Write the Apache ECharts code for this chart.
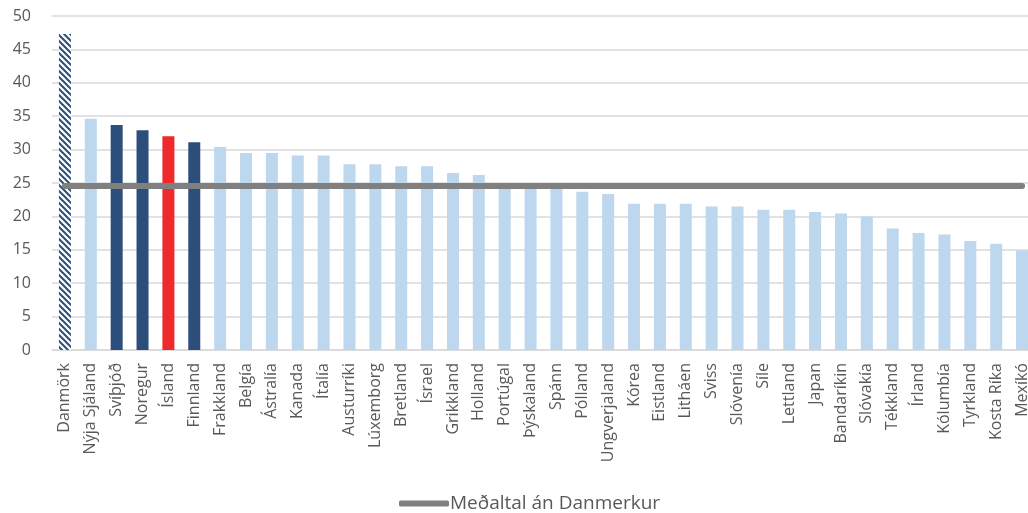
<!DOCTYPE html>
<html>
<head>
<meta charset="utf-8">
<script src="https://cdn.jsdelivr.net/npm/echarts@6/dist/echarts.min.js"></script>
<style>
html,body{margin:0;padding:0;background:#fff;overflow:hidden;}
#wrap{width:1028px;height:513px;overflow:hidden;}
#c{width:1036px;height:513px;}
</style>
</head>
<body>
<div id="wrap"><div id="c"></div></div>
<script>
const categories = ['Danmörk','Nýja Sjáland','Svíþjóð','Noregur','Ísland','Finnland','Frakkland','Belgía','Ástralía','Kanada','Ítalía','Austurríki','Lúxemborg','Bretland','Ísrael','Grikkland','Holland','Portúgal','Þýskaland','Spánn','Pólland','Ungverjaland','Kórea','Eistland','Litháen','Sviss','Slóvenía','Síle','Lettland','Japan','Bandaríkin','Slóvakía','Tékkland','Írland','Kólumbía','Tyrkland','Kosta Ríka','Mexíkó'];
const values = [47.3,34.6,33.7,32.9,32.0,31.1,30.4,29.5,29.5,29.1,29.1,27.8,27.8,27.5,27.5,26.5,26.2,24.6,24.4,24.3,23.7,23.35,21.9,21.9,21.9,21.5,21.5,21.0,21.0,20.65,20.45,20.0,18.2,17.5,17.3,16.3,15.9,14.9];
const averageValue = 24.55;
const averageName = 'Meðaltal án Danmerkur';
const hatchedCategories = ['Danmörk'];
const navyCategories = ['Svíþjóð','Noregur','Finnland'];
const redCategories = ['Ísland'];
const yTicks = {min:0, max:50, interval:5};

const LIGHT = '#bdd7ee', NAVY = '#2c4e7a', RED = '#ee2a2a', GRAY = '#808080';

// hatch pattern
const pc = document.createElement('canvas');
pc.width = 6; pc.height = 6;
const g = pc.getContext('2d');
g.fillStyle = '#ffffff'; g.fillRect(0,0,6,6);
g.strokeStyle = NAVY; g.lineWidth = 2;
g.beginPath();
g.moveTo(-3,-3); g.lineTo(9,9);
g.moveTo(-9,-3); g.lineTo(3,9);
g.moveTo(3,-3); g.lineTo(15,9);
g.stroke();

const barData = values.map((v,i)=>{
  const c = categories[i];
  let color = LIGHT;
  if (hatchedCategories.includes(c)) color = {image: pc, repeat: 'repeat'};
  else if (navyCategories.includes(c)) color = NAVY;
  else if (redCategories.includes(c)) color = RED;
  return {value: v, itemStyle: {color: color}};
});
const avgData = categories.map(()=>averageValue);

const FONT = 'Open Sans';
const chart = echarts.init(document.getElementById('c'), null, {renderer:'canvas'});
chart.setOption({
  animation:false,
  textStyle:{fontFamily:FONT},
  grid:{left:52, right:1, top:16, height:334, containLabel:false},
  legend:{
    data:[{name:averageName, icon:'roundRect'}],
    left:394, top:489,
    itemWidth:50, itemHeight:6, itemGap:10,
    textStyle:{fontFamily:FONT, fontSize:19, color:'#595959', padding:[0,0,0,-4]}
  },
  xAxis:{
    type:'category', data:categories,
    axisTick:{show:false},
    axisLine:{lineStyle:{color:'#d9d9d9', width:1.5}},
    axisLabel:{rotate:90, interval:0, fontFamily:FONT, fontSize:16, color:'#595959', margin:13}
  },
  yAxis:{
    type:'value', min:yTicks.min, max:yTicks.max, interval:yTicks.interval,
    axisLine:{show:false}, axisTick:{show:false},
    splitLine:{lineStyle:{color:'#d9d9d9', width:1.5}},
    axisLabel:{fontFamily:FONT, fontSize:16, color:'#595959', margin:21}
  },
  series:[
    {type:'bar', name:'Gildi', data:barData, barWidth:12, z:2},
    {type:'line', name:averageName, data:avgData, symbol:'none', showSymbol:false, z:3,
     lineStyle:{color:GRAY, width:6, cap:'round'}, itemStyle:{color:GRAY}}
  ]
});
</script>
</body>
</html>
